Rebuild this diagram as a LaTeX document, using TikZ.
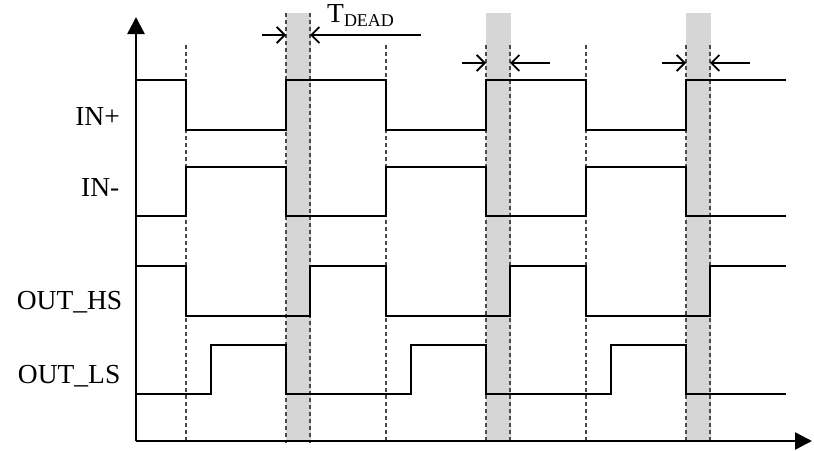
\documentclass[tikz,border=0pt]{standalone}
\usepackage{fontspec}
\setmainfont{Liberation Serif}
\usetikzlibrary{arrows.meta}
\definecolor{shade}{HTML}{D6D6D6}
\definecolor{dashgray}{HTML}{4A4A4A}
\begin{document}
\begin{tikzpicture}[x=1pt,y=-1pt,
  sig/.style={line width=2.2pt,line join=miter},
  axis/.style={line width=2.4pt,-{Triangle[length=17pt,width=17pt]}},
  guide/.style={dashgray,line width=1.1pt,dash pattern=on 4pt off 3pt},
  band/.style={fill=shade,draw=none},
  dim/.style={line width=1.5pt,-{Straight Barb[length=8pt,width=16pt,line width=1.8pt]}},
  lbl/.style={font=\fontsize{27.5}{31}\selectfont,inner sep=0pt,anchor=base east}]
\useasboundingbox (0,0) rectangle (814,450);
% shaded dead-time bands
\fill[band] (286,13) rectangle (311,441);
\fill[band] (486,13) rectangle (511,441);
\fill[band] (686,13) rectangle (711,441);
% dashed guide lines
\foreach \x in {186,386,586,486,510,686,710} \draw[guide] (\x,45) -- (\x,443);
\foreach \x in {286,310} \draw[guide] (\x,13) -- (\x,443);
% signals
\draw[sig] (136,80) -- (186,80) -- (186,130) -- (286,130) -- (286,80) -- (386,80) -- (386,130) -- (486,130) -- (486,80) -- (586,80) -- (586,130) -- (686,130) -- (686,80) -- (786,80);
\draw[sig] (136,216) -- (186,216) -- (186,167) -- (286,167) -- (286,216) -- (386,216) -- (386,167) -- (486,167) -- (486,216) -- (586,216) -- (586,167) -- (686,167) -- (686,216) -- (786,216);
\draw[sig] (136,266) -- (186,266) -- (186,316) -- (310,316) -- (310,266) -- (386,266) -- (386,316) -- (510,316) -- (510,266) -- (586,266) -- (586,316) -- (710,316) -- (710,266) -- (786,266);
\draw[sig] (136,394) -- (211,394) -- (211,345) -- (286,345) -- (286,394) -- (411,394) -- (411,345) -- (486,345) -- (486,394) -- (611,394) -- (611,345) -- (686,345) -- (686,394) -- (786,394);
% axes
\coordinate (o) at (136,441);
\coordinate (ytip) at (136,17);
\coordinate (xtip) at (812,441);
\draw[axis] (o) -- (ytip);
\draw[axis] (o) -- (xtip);
% dead-time dimension arrows
\coordinate (a1l) at (262,35); \coordinate (a1lt) at (286,35);
\coordinate (a1r) at (421,35); \coordinate (a1rt) at (310,35);
\coordinate (a2l) at (462,63); \coordinate (a2lt) at (486,63);
\coordinate (a2r) at (550,63); \coordinate (a2rt) at (510,63);
\coordinate (a3l) at (662,63); \coordinate (a3lt) at (686,63);
\coordinate (a3r) at (750,63); \coordinate (a3rt) at (710,63);
\draw[dim] (a1l) -- (a1lt);
\draw[dim] (a1r) -- (a1rt);
\draw[dim] (a2l) -- (a2lt);
\draw[dim] (a2r) -- (a2rt);
\draw[dim] (a3l) -- (a3lt);
\draw[dim] (a3r) -- (a3rt);
% labels
\node[lbl] (inp) at (120,125.5) {IN+};
\node[lbl] (inm) at (119.5,196.5) {IN-};
\node[lbl] (ohs) at (122.5,309) {OUT\_HS};
\node[lbl] (ols) at (120.5,383) {OUT\_LS};
\node[font=\fontsize{27.5}{31}\selectfont,inner sep=0pt,anchor=base west] (td) at (327,22.5) {T\raisebox{-4pt}{\fontsize{18}{20}\selectfont DEAD}};
\end{tikzpicture}
\end{document}
